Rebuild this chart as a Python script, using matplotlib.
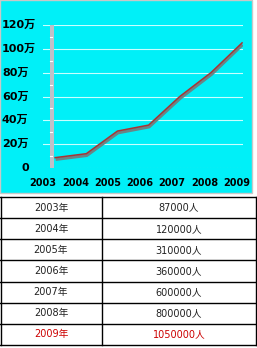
import matplotlib
matplotlib.use("Agg")
import matplotlib.pyplot as plt
import matplotlib.transforms as mtrans
from matplotlib.patches import Rectangle
import numpy as np

years = ["2003", "2004", "2005", "2006", "2007", "2008", "2009"]
people = [87000, 120000, 310000, 360000, 600000, 800000, 1050000]
yticks = [0, 20, 40, 60, 80, 100, 120]
ytick_labels = ["0", "20万", "40万", "60万", "80万", "100万", "120万"]
row_labels = [y + "年" for y in years]
value_labels = [str(v) + "人" for v in people]

FONTS = ["DejaVu Sans", "Noto Sans CJK SC"]
W, H = 257, 348
fig = plt.figure(figsize=(W / 100, H / 100), dpi=100)
fig.patch.set_facecolor("white")

def fx(px):
    return px / W

def fy(py):
    return 1 - py / H

# chart panel background
fig.patches.append(Rectangle((0, fy(193)), fx(252), 193 / H, transform=fig.transFigure,
                             facecolor="#00f0f8", edgecolor="#c8c8c8", linewidth=1, zorder=-10))

# plot axes
left, right, top, bottom = 43, 243, 25, 168
ax = fig.add_axes([fx(left), fy(bottom), (right - left) / W, (bottom - top) / H])
ax.set_zorder(5)
ax.set_facecolor("none")
for s in ax.spines.values():
    s.set_visible(False)
x = np.arange(len(years))
vals = np.array(people) / 10000.0
ax.set_xlim(-0.03, 6.03)
ax.set_ylim(0, 120)

# gridlines
for t in yticks[1:]:
    ax.axhline(t, color="#c8ffff", linewidth=0.8, zorder=1)
ax.axhline(0, color="#a0d0d0", linewidth=0.8, linestyle=(0, (1, 2)), zorder=1)

# grey wall
ax.add_patch(Rectangle((-0.18, 0), 0.15, 120, facecolor="#c0c0c8", edgecolor="none",
                       clip_on=False, zorder=2))
for t in range(10, 120, 10):
    if t % 20:
        ax.plot([-0.15, -0.10], [t, t], color="white", linewidth=0.8, clip_on=False, zorder=3)

# shadow line and main line
shadow_tr = mtrans.offset_copy(ax.transData, fig=fig, x=0.5, y=-1.8, units="dots")
ax.plot(x, vals, color="#6a8486", linewidth=2.2, transform=shadow_tr, zorder=4,
        solid_capstyle="butt")
ax.plot(x, vals, color="#a83434", linewidth=1.1, zorder=5)

ax.set_yticks([])
ax.tick_params(left=False, bottom=False)
ytr = mtrans.blended_transform_factory(fig.transFigure, ax.transData)
for t, lab in zip(yticks, ytick_labels):
    xpos = fx(22) if t == 0 else fx(2)
    ax.text(xpos, t, lab, transform=ytr, ha="left", va="center", fontsize=8,
            fontweight="bold", family=FONTS)
ax.set_xticks(np.arange(len(years)) * 1.036 - 0.39)
ax.set_xticklabels(years, fontsize=7, fontweight="bold", family=FONTS)
ax.tick_params(axis="x", pad=4)

# table
tab = fig.add_axes([0, fy(345), 1, (345 - 197) / H])
tab.set_xlim(0, W)
tab.set_ylim(345, 197)
tab.axis("off")
n = len(years)
row_h = (345 - 197) / n
for i in range(n + 1):
    yy = 197 + i * row_h
    tab.plot([0, 256], [yy, yy], color="black", linewidth=1.0, clip_on=False)
for xx in [0.5, 102, 256]:
    tab.plot([xx, xx], [197, 345], color="black", linewidth=1.0, clip_on=False)
for i in range(n):
    cy = 197 + (i + 0.5) * row_h
    col = "#cc0000" if i == n - 1 else "#222222"
    tab.text(51, cy, row_labels[i], ha="center", va="center", fontsize=7, color=col, family=FONTS)
    tab.text(179, cy, value_labels[i], ha="center", va="center", fontsize=7, color=col, family=FONTS)

fig.savefig("out.png", dpi=100, facecolor="white")
